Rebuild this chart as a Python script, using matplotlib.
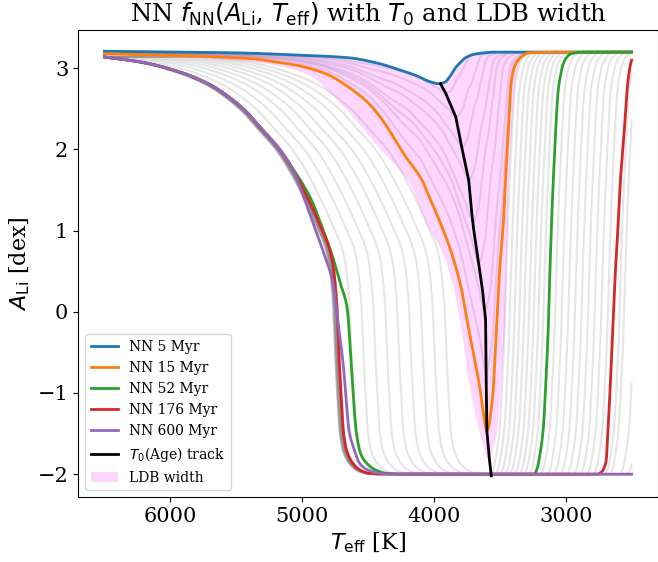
import numpy as np
import matplotlib
matplotlib.use("Agg")
import matplotlib.pyplot as plt
from matplotlib.ticker import MultipleLocator

plt.rcParams['font.family'] = 'serif'
plt.rcParams['font.serif'] = ['DejaVu Serif']
plt.rcParams['mathtext.fontset'] = 'dejavusans'

# ---- highlighted NN curves: (Teff [K], A_Li [dex]) samples ----
nn_ages = [5, 15, 52, 176, 600]
nn_colors = ['#1f77b4', '#ff7f0e', '#2ca02c', '#d62728', '#9467bd']

teff_5 = [6500, 6000, 5500, 5000, 4650, 4420, 4260, 4120, 4040, 3962, 3915, 3870,
          3835, 3800, 3760, 3700, 3620, 3530, 3300, 2500]
ali_5 = [3.21, 3.20, 3.19, 3.16, 3.13, 3.06, 2.98, 2.90, 2.84, 2.81, 2.83, 2.92,
         3.01, 3.07, 3.13, 3.17, 3.19, 3.20, 3.20, 3.20]

teff_15 = [6500, 5400, 5170, 5020, 4817, 4640, 4490, 4390, 4210, 4090, 4040, 3960,
           3865, 3790, 3735, 3690, 3650, 3615, 3598, 3585, 3565, 3548, 3525, 3500,
           3472, 3457, 3435, 3412, 3380, 3330, 3280, 3000, 2500]
ali_15 = [3.18, 3.12, 3.07, 3.03, 2.93, 2.76, 2.56, 2.36, 1.90, 1.62, 1.43, 1.13,
          0.72, 0.27, -0.22, -0.60, -0.95, -1.35, -1.47, -1.42, -1.20, -0.92, -0.20, 0.55,
          1.13, 1.62, 2.24, 2.85, 3.05, 3.15, 3.19, 3.20, 3.20]

teff_52 = [6500, 6200, 5920, 5700, 5550, 5420, 5300, 5170, 5060, 4930, 4850, 4769,
           4700, 4671, 4656, 4626, 4588, 4555, 4513, 4440, 4362, 4250, 3240, 3215,
           3200, 3171, 3150, 3133, 3118, 3105, 3080, 3057, 3035, 3020, 2990, 2959,
           2854, 2500]
ali_52 = [3.14, 3.07, 2.95, 2.80, 2.64, 2.46, 2.24, 2.00, 1.74, 1.38, 1.05, 0.68,
          0.30, 0.15, 0.02, -0.68, -1.49, -1.75, -1.86, -1.95, -1.99, -2.00, -2.00, -1.92,
          -1.80, -1.45, -0.85, -0.22, 0.60, 1.20, 2.11, 2.73, 2.95, 3.05, 3.14, 3.18,
          3.20, 3.20]

teff_176 = [6500, 6200, 5920, 5700, 5550, 5420, 5300, 5170, 5060, 4958, 4860, 4777,
            4739, 4716, 4700, 4686, 4660, 4618, 4560, 4490, 4400, 2760, 2733, 2696,
            2666, 2643, 2620, 2605, 2582, 2552, 2530, 2507, 2500]
ali_176 = [3.14, 3.07, 2.95, 2.80, 2.64, 2.46, 2.24, 2.00, 1.72, 1.40, 1.05, 0.68,
           0.15, -0.68, -1.15, -1.49, -1.72, -1.86, -1.95, -1.99, -2.00, -2.00, -1.98, -1.86,
           -1.04, -0.22, 0.60, 1.00, 1.70, 2.32, 2.81, 3.06, 3.10]

teff_600 = [6500, 6200, 5920, 5700, 5550, 5420, 5300, 5170, 5060, 4980, 4890, 4820,
            4766, 4730, 4686, 4641, 4600, 4566, 4500, 4415, 4300, 2500]
ali_600 = [3.14, 3.07, 2.95, 2.80, 2.64, 2.46, 2.24, 2.00, 1.72, 1.38, 0.97, 0.65,
           0.36, -0.10, -0.68, -1.49, -1.72, -1.86, -1.95, -1.99, -2.00, -2.00]

# ---- T0(Age) track: location of the Li minimum ----
t0_teff = [3950, 3910, 3834, 3789, 3736, 3713, 3698, 3661, 3630, 3608, 3603, 3598, 3580, 3565]
t0_ali = [2.81, 2.69, 2.40, 2.03, 1.62, 1.22, 1.01, 0.60, 0.25, -0.10, -0.90, -1.47, -1.80, -2.02]

# ---- lower edge of the LDB-width band (upper edge is the 5 Myr curve) ----
ldb_teff = [6500, 6000, 5500, 5200, 4965, 4700, 4400, 4200, 4060, 3930, 3850, 3795,
            3760, 3730, 3661, 3585, 3550, 3523, 3497, 3466, 3434, 3410, 3385, 3360,
            3320, 3250, 2500]
ldb_ali = [3.17, 3.15, 3.10, 3.04, 2.93, 2.55, 1.99, 1.62, 1.10, 0.70, 0.27, -0.22,
           -0.60, -0.92, -1.45, -1.82, -1.65, -1.45, -0.92, -0.20, 1.62, 2.30, 2.85, 3.05,
           3.15, 3.19, 3.20]

# ---- background age grid ----
# young ages (between 5 and 15 Myr): position and depth of each minimum
young_tmin = [3910, 3834, 3789, 3736, 3705, 3661, 3615, 3603]
young_amin = [2.69, 2.40, 2.03, 1.62, 1.10, 0.60, 0.00, -0.75]
# older ages: Teff where the hot side and the cool side cross A_Li = 1
old_hot_t1 = [4030, 4120, 4210, 4300, 4390, 4480, 4570, 4660, 4750,
              4842, 4844, 4846, 4848, 4850, 4852, 4854, 4856, 4858,
              4860, 4862, 4864, 4866, 4868, 4870, 4872, 4874, 4876]
old_cool_t1 = [3440, 3404, 3367, 3331, 3295, 3258, 3222, 3186, 3149,
               3060, 3010, 2960, 2910, 2860, 2810, 2760, 2710, 2660,
               2572, 2537, 2458, 2400, 2340, 2280, 2220, 2160, 2100]

A_PLATEAU = 3.2


def smooth_curve(x, y, xq):
    """Monotone cubic (PCHIP) curve through the samples, evaluated at xq."""
    x = np.asarray(x, float)
    y = np.asarray(y, float)
    if x[0] > x[-1]:
        x, y = x[::-1], y[::-1]
    h = np.diff(x)
    m = np.diff(y) / h
    d = np.zeros_like(y)
    for k in range(1, len(x) - 1):
        if m[k - 1] * m[k] > 0:
            w1 = 2 * h[k] + h[k - 1]
            w2 = h[k] + 2 * h[k - 1]
            d[k] = (w1 + w2) / (w1 / m[k - 1] + w2 / m[k])
    d[0], d[-1] = m[0], m[-1]
    xq = np.clip(np.asarray(xq, float), x[0], x[-1])
    i = np.clip(np.searchsorted(x, xq) - 1, 0, len(h) - 1)
    t = (xq - x[i]) / h[i]
    t2, t3 = t * t, t * t * t
    return ((2 * t3 - 3 * t2 + 1) * y[i] + (t3 - 2 * t2 + t) * h[i] * d[i]
            + (-2 * t3 + 3 * t2) * y[i + 1] + (t3 - t2) * h[i] * d[i + 1])


fig = plt.figure(figsize=(6.58, 5.62), dpi=100)
ax = fig.add_axes([78 / 658, 65 / 562, 580 / 658, 467 / 562])

grid = np.linspace(2500, 6500, 2001)
grey_kw = dict(color='gray', alpha=0.2, lw=1.5, zorder=1)

dense = {age: smooth_curve(t, a, grid) for age, (t, a) in zip(
    nn_ages, [(teff_5, ali_5), (teff_15, ali_15), (teff_52, ali_52),
              (teff_176, ali_176), (teff_600, ali_600)])}

# young curves: 15 Myr profile moved to each minimum, depth scaled
o_tmin, o_amin = 3598, -1.47
for tmin, amin in zip(young_tmin, young_amin):
    f = (A_PLATEAU - amin) / (A_PLATEAU - o_amin)
    a = A_PLATEAU - f * (A_PLATEAU - np.interp(grid - tmin + o_tmin, grid, dense[15]))
    ax.plot(grid, a, **grey_kw)

# older curves: hot side of the 176 Myr curve and cool side of the 52 Myr curve,
# each moved along Teff to its own A_Li = 1 crossing
hot_t = grid[grid >= 4400]
hot_a = dense[176][grid >= 4400]
cool_t = grid[grid <= 3240]
cool_a = dense[52][grid <= 3240]
HOT_T1, COOL_T1 = 4846, 3109
for th, tc in zip(old_hot_t1, old_cool_t1):
    a = np.maximum(np.interp(grid + HOT_T1 - th, hot_t, hot_a),
                   np.interp(grid + COOL_T1 - tc, cool_t, cool_a))
    ax.plot(grid, a, **grey_kw)

# LDB width band between the 5 Myr curve and the lower edge
ldb_dense = smooth_curve(ldb_teff, ldb_ali, grid)
band = ax.fill_between(grid, ldb_dense, np.maximum(dense[5], ldb_dense),
                       color='magenta', alpha=0.16, lw=0, zorder=2, label='LDB width')

handles = []
for age, col in zip(nn_ages, nn_colors):
    h, = ax.plot(grid, dense[age], color=col, lw=2, zorder=3, label=f'NN {age} Myr')
    handles.append(h)

ht, = ax.plot(t0_teff, t0_ali, color='black', lw=2, zorder=4, label=r'$T_0$(Age) track')
handles += [ht, band]

ax.invert_xaxis()
ax.xaxis.set_major_locator(MultipleLocator(1000))
ax.set_xlabel(r'$T_{\rm eff}$ [K]', fontsize=16)
ax.set_ylabel(r'$A_{\rm Li}$ [dex]', fontsize=16)
ax.set_title(r'NN $f_{\rm NN}(A_{\rm Li}$, $T_{\rm eff})$ with $T_0$ and LDB width', fontsize=17.5)
ax.tick_params(labelsize=15)
ax.legend(handles=handles, loc='lower left', fontsize=10)

fig.savefig('out.png', dpi=100)
